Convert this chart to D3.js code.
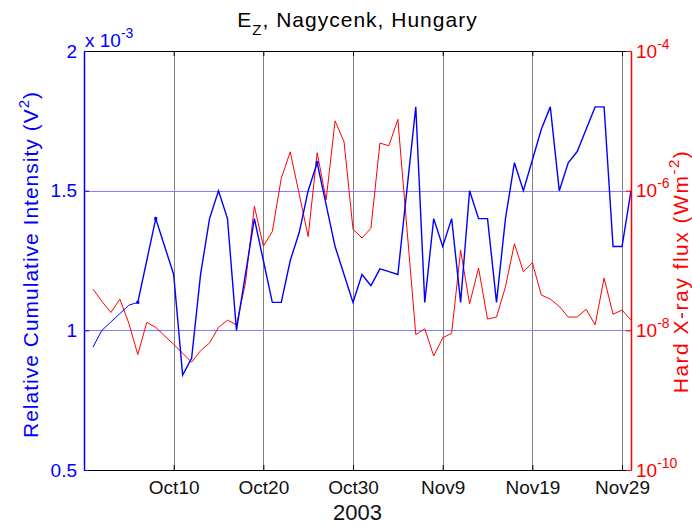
<!DOCTYPE html>
<html>
<head>
<meta charset="utf-8">
<script src="https://cdn.jsdelivr.net/npm/d3@7"></script>
<style>
  body { margin: 0; background: #fff; }
  text { font-family: "Liberation Sans", Arial, sans-serif; }
</style>
</head>
<body>
<div id="chart"></div>
<script>
// daily values, Oct 1 .. Nov 30 2003
const days = d3.timeDay.range(new Date(2003, 9, 1), new Date(2003, 11, 1))

// relative cumulative intensity, units of 1e-3 V^2
const intensity = [
  0.94, 1.0, 1.03, 1.06, 1.09, 1.1, 1.25, 1.4, 1.3, 1.2,
  0.84, 0.9, 1.2, 1.4, 1.5, 1.4, 1.0, 1.2, 1.4, 1.25,
  1.1, 1.1, 1.25, 1.35, 1.5, 1.6, 1.45, 1.3, 1.2, 1.1,
  1.2, 1.16, 1.22, 1.21, 1.2, 1.5, 1.8, 1.1, 1.4, 1.3,
  1.4, 1.1, 1.5, 1.4, 1.4, 1.1, 1.4, 1.6, 1.5, 1.61,
  1.72, 1.8, 1.5, 1.6, 1.64, 1.72, 1.8, 1.8, 1.3, 1.3,
  1.5
]

// hard X-ray flux, W m^-2
const xray = [
  3.9e-8, 2.6e-8, 1.8e-8, 2.8e-8, 1.26e-8, 4.5e-9, 1.3e-8, 1.1e-8, 8.3e-9, 6.3e-9,
  4.7e-9, 3.5e-9, 5.1e-9, 6.6e-9, 1.1e-8, 1.4e-8, 1.2e-8, 4.7e-8, 6.0e-7, 1.6e-7,
  2.6e-7, 1.5e-6, 3.6e-6, 8.9e-7, 2.2e-7, 3.5e-6, 7.4e-7, 1.0e-5, 5.0e-6, 2.8e-7,
  2.1e-7, 2.9e-7, 4.8e-6, 4.4e-6, 1.05e-5, 3.0e-7, 8.7e-9, 1.05e-8, 4.3e-9, 7.8e-9,
  9.1e-9, 1.4e-7, 2.4e-8, 7.8e-8, 1.45e-8, 1.55e-8, 4.2e-8, 1.74e-7, 6.9e-8, 9.3e-8,
  3.2e-8, 2.8e-8, 2.2e-8, 1.55e-8, 1.55e-8, 2.0e-8, 1.2e-8, 5.6e-8, 1.7e-8, 1.95e-8,
  1.4e-8
]

// days carrying a marker on the intensity curve
const markedDays = [new Date(2003, 9, 6), new Date(2003, 9, 8), new Date(2003, 9, 26)]

const xTicks = [
  new Date(2003, 9, 10), new Date(2003, 9, 20), new Date(2003, 9, 30),
  new Date(2003, 10, 9), new Date(2003, 10, 19), new Date(2003, 10, 29)
]
const leftTicks = [0.5, 1, 1.5, 2]
const rightTicks = [1e-10, 1e-8, 1e-6, 1e-4]
const leftGrid = [1, 1.5]

const width = 692
const height = 525
const margin = { top: 51, left: 84, bottom: 55, right: 61 }
const x0 = margin.left
const x1 = width - margin.right
const y0 = margin.top
const y1 = height - margin.bottom

const svg = d3.select('#chart').append('svg')
  .attr('width', width)
  .attr('height', height)

const x = d3.scaleTime().domain([new Date(2003, 8, 30), new Date(2003, 10, 30)]).range([x0, x1])
const yL = d3.scaleLinear().domain([0.5, 2]).range([y1, y0])
const yR = d3.scaleLog().domain([1e-10, 1e-4]).range([y1, y0])

// gray day lines and blue grid
svg.append('g').selectAll('line').data(xTicks).join('line')
  .attr('x1', d => Math.round(x(d)) + 0.5).attr('x2', d => Math.round(x(d)) + 0.5)
  .attr('y1', y0).attr('y2', y1)
  .attr('stroke', '#808080').attr('stroke-width', 1)
svg.append('g').selectAll('line').data(leftGrid).join('line')
  .attr('x1', x0).attr('x2', x1)
  .attr('y1', d => Math.round(yL(d)) + 0.5).attr('y2', d => Math.round(yL(d)) + 0.5)
  .attr('stroke', '#8080ff').attr('stroke-width', 1)

// series
const red = days.map((d, i) => [d, xray[i]])
const blue = days.map((d, i) => [d, intensity[i]])

svg.append('path')
  .datum(red)
  .attr('d', d3.line().x(d => x(d[0])).y(d => yR(d[1])))
  .attr('fill', 'none').attr('stroke', '#ff0000').attr('stroke-width', 1)

const blueLine = d3.line().x(d => x(d[0])).y(d => yL(d[1]))
svg.append('path')
  .datum(blue.slice(0, 6))
  .attr('d', blueLine)
  .attr('fill', 'none').attr('stroke', '#0000ff').attr('stroke-width', 1)
svg.append('path')
  .datum(blue.slice(5))
  .attr('d', blueLine)
  .attr('fill', 'none').attr('stroke', '#0000ff').attr('stroke-width', 1.4)

svg.append('g').selectAll('rect')
  .data(blue.filter(d => markedDays.some(m => +m === +d[0])))
  .join('rect')
  .attr('x', d => x(d[0]) - 1.5).attr('y', d => yL(d[1]) - 1.5)
  .attr('width', 3).attr('height', 3)
  .attr('fill', '#0000ff')

// axes
const fmt = d3.timeFormat('%b%-d')
const axBottom = svg.append('g')
  .attr('transform', `translate(0,${y1})`)
  .call(d3.axisBottom(x).tickValues(xTicks).tickFormat(fmt).tickSizeInner(-5).tickSizeOuter(0).tickPadding(11))
const axTop = svg.append('g')
  .attr('transform', `translate(0,${y0})`)
  .call(d3.axisTop(x).tickValues(xTicks).tickFormat('').tickSizeInner(-5).tickSizeOuter(0))
;[axBottom, axTop].forEach(g => {
  g.select('.domain').attr('stroke', '#000')
  g.selectAll('.tick line').attr('stroke', '#000')
  g.selectAll('text').attr('font-size', 19).attr('fill', '#111').attr('font-family', null)
})

const axLeft = svg.append('g')
  .attr('transform', `translate(${x0},0)`)
  .call(d3.axisLeft(yL).tickValues(leftTicks).tickFormat(d => String(d)).tickSizeInner(-5).tickSizeOuter(0).tickPadding(7))
axLeft.select('.domain').attr('stroke', '#0000ff').attr('stroke-width', 1.5)
axLeft.selectAll('.tick line').attr('stroke', '#0000ff')
axLeft.selectAll('text').attr('font-size', 19).attr('fill', '#0000ff').attr('font-family', null)

const axRight = svg.append('g')
  .attr('transform', `translate(${x1},0)`)
  .call(d3.axisRight(yR).tickValues(rightTicks).tickSizeInner(-5).tickSizeOuter(0).tickPadding(5))
axRight.select('.domain').attr('stroke', '#ff0000').attr('stroke-width', 1.5)
axRight.selectAll('.tick line').attr('stroke', '#ff0000')
axRight.selectAll('text')
  .attr('font-size', 19).attr('fill', '#ff0000').attr('font-family', null)
  .each(function (d) {
    const t = d3.select(this).text('')
    t.append('tspan').text('10')
    t.append('tspan').attr('dy', -9).attr('font-size', 14).text(String(Math.round(Math.log10(d))))
  })

// title and labels
const title = svg.append('text')
  .attr('x', (x0 + x1) / 2).attr('y', 27)
  .attr('text-anchor', 'middle').attr('font-size', 21).attr('letter-spacing', 1).attr('fill', '#000')
title.append('tspan').text('E')
title.append('tspan').attr('dy', 8).attr('font-size', 15).text('Z')
title.append('tspan').attr('dy', -8).text(', Nagycenk, Hungary')

const mult = svg.append('text')
  .attr('x', x0 + 1).attr('y', 47)
  .attr('font-size', 19).attr('fill', '#0000ff')
mult.append('tspan').text('x 10')
mult.append('tspan').attr('dy', -9).attr('font-size', 14).text('-3')

const ylab = svg.append('text')
  .attr('transform', `translate(38,${(y0 + y1) / 2 + 4}) rotate(-90)`)
  .attr('text-anchor', 'middle').attr('font-size', 21).attr('letter-spacing', 1).attr('fill', '#0000ff')
ylab.append('tspan').text('Relative Cumulative Intensity (V')
ylab.append('tspan').attr('dy', -9).attr('font-size', 15).text('2')
ylab.append('tspan').attr('dy', 9).text(')')

const rlab = svg.append('text')
  .attr('transform', `translate(688,${(y0 + y1) / 2 + 11}) rotate(-90)`)
  .attr('text-anchor', 'middle').attr('font-size', 21).attr('letter-spacing', 1.5).attr('fill', '#ff0000')
rlab.append('tspan').text('Hard X-ray flux (Wm')
rlab.append('tspan').attr('dy', -9).attr('font-size', 15).text('-2')
rlab.append('tspan').attr('dy', 9).text(')')

svg.append('text')
  .attr('x', (x0 + x1) / 2).attr('y', 520)
  .attr('text-anchor', 'middle').attr('font-size', 22).attr('fill', '#111')
  .text('2003')
</script>
</body>
</html>
